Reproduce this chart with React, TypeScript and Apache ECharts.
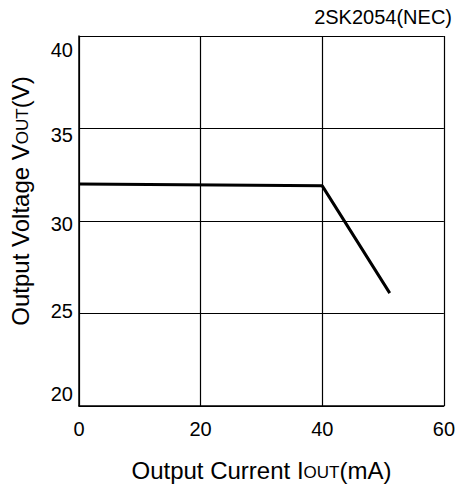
import React, { useEffect, useRef } from "react";
import * as echarts from "echarts";

const currentMA = [0, 40, 51.1];
const voltageV = [32.0, 31.9, 26.1];
const xTicks = [0, 20, 40, 60];
const yTicks = [20, 25, 30, 35, 40];
const deviceLabel = "2SK2054(NEC)";

const FONT = "'Liberation Sans', Arial, Helvetica, sans-serif";

export default function App() {
  const ref = useRef<HTMLDivElement>(null);
  useEffect(() => {
    if (!ref.current) return;
    const chart = echarts.init(ref.current, undefined, { renderer: "svg" });
    const yRich: Record<string, any> = {
      y40: { fontSize: 20, fontFamily: FONT, color: "#000", padding: [28, 0, 0, 0] },
      y35: { fontSize: 20, fontFamily: FONT, color: "#000", padding: [13, 0, 0, 0] },
      y30: { fontSize: 20, fontFamily: FONT, color: "#000", padding: [6, 0, 0, 0] },
      y25: { fontSize: 20, fontFamily: FONT, color: "#000", padding: [0, 0, 6, 0] },
      y20: { fontSize: 20, fontFamily: FONT, color: "#000", padding: [0, 0, 24, 0] },
    };
    chart.setOption({
      animation: false,
      backgroundColor: "#ffffff",
      textStyle: { fontFamily: FONT, color: "#000" },
      grid: { left: 77.5, right: 10, top: 36, bottom: 83, containLabel: false },
      graphic: [
        {
          type: "text",
          right: 6,
          top: 7,
          style: { text: deviceLabel, font: `20px ${FONT}`, fill: "#000" },
        },
      ],
      xAxis: {
        type: "value",
        min: xTicks[0],
        max: xTicks[xTicks.length - 1],
        interval: 20,
        axisLine: { show: true, lineStyle: { color: "#000", width: 1.5 } },
        axisTick: { show: false },
        splitLine: { show: true, lineStyle: { color: "#000", width: 1.2 } },
        axisLabel: { color: "#000", fontSize: 20, margin: 13, fontFamily: FONT },
        name: "{a|Output Current I}{b|OUT}{a|(mA)}",
        nameLocation: "middle",
        nameGap: 52,
        nameTextStyle: {
          rich: {
            a: { fontSize: 24, fontFamily: FONT, color: "#000" },
            b: { fontSize: 17, fontFamily: FONT, color: "#000", verticalAlign: "bottom", padding: [0, 0, 1, 0] },
          },
        },
      },
      yAxis: {
        type: "value",
        min: yTicks[0],
        max: yTicks[yTicks.length - 1],
        interval: 5,
        axisLine: { show: true, lineStyle: { color: "#000", width: 1.5 } },
        axisTick: { show: false },
        splitLine: { show: true, lineStyle: { color: "#000", width: 1.2 } },
        axisLabel: {
          color: "#000",
          fontSize: 20,
          margin: 6,
          fontFamily: FONT,
          formatter: (v: number) => `{y${v}|${v}}`,
          rich: yRich,
        },
        name: "{a|Output Voltage V}{b|OUT}{a|(V)}",
        nameLocation: "middle",
        nameRotate: 90,
        nameGap: 47,
        nameTextStyle: {
          padding: [0, 0, 0, 40],
          rich: {
            a: { fontSize: 24, fontFamily: FONT, color: "#000" },
            b: { fontSize: 17, fontFamily: FONT, color: "#000", verticalAlign: "bottom", padding: [0, 0, 1, 0] },
          },
        },
      },
      series: [
        {
          type: "line",
          data: currentMA.map((x, i) => [x, voltageV[i]]),
          showSymbol: false,
          symbol: "none",
          lineStyle: { color: "#000", width: 3 },
        },
      ],
    });
    return () => chart.dispose();
  }, []);
  return (
    <div
      ref={ref}
      style={{ position: "absolute", left: 0, top: 0, width: 458, height: 489 }}
    />
  );
}
